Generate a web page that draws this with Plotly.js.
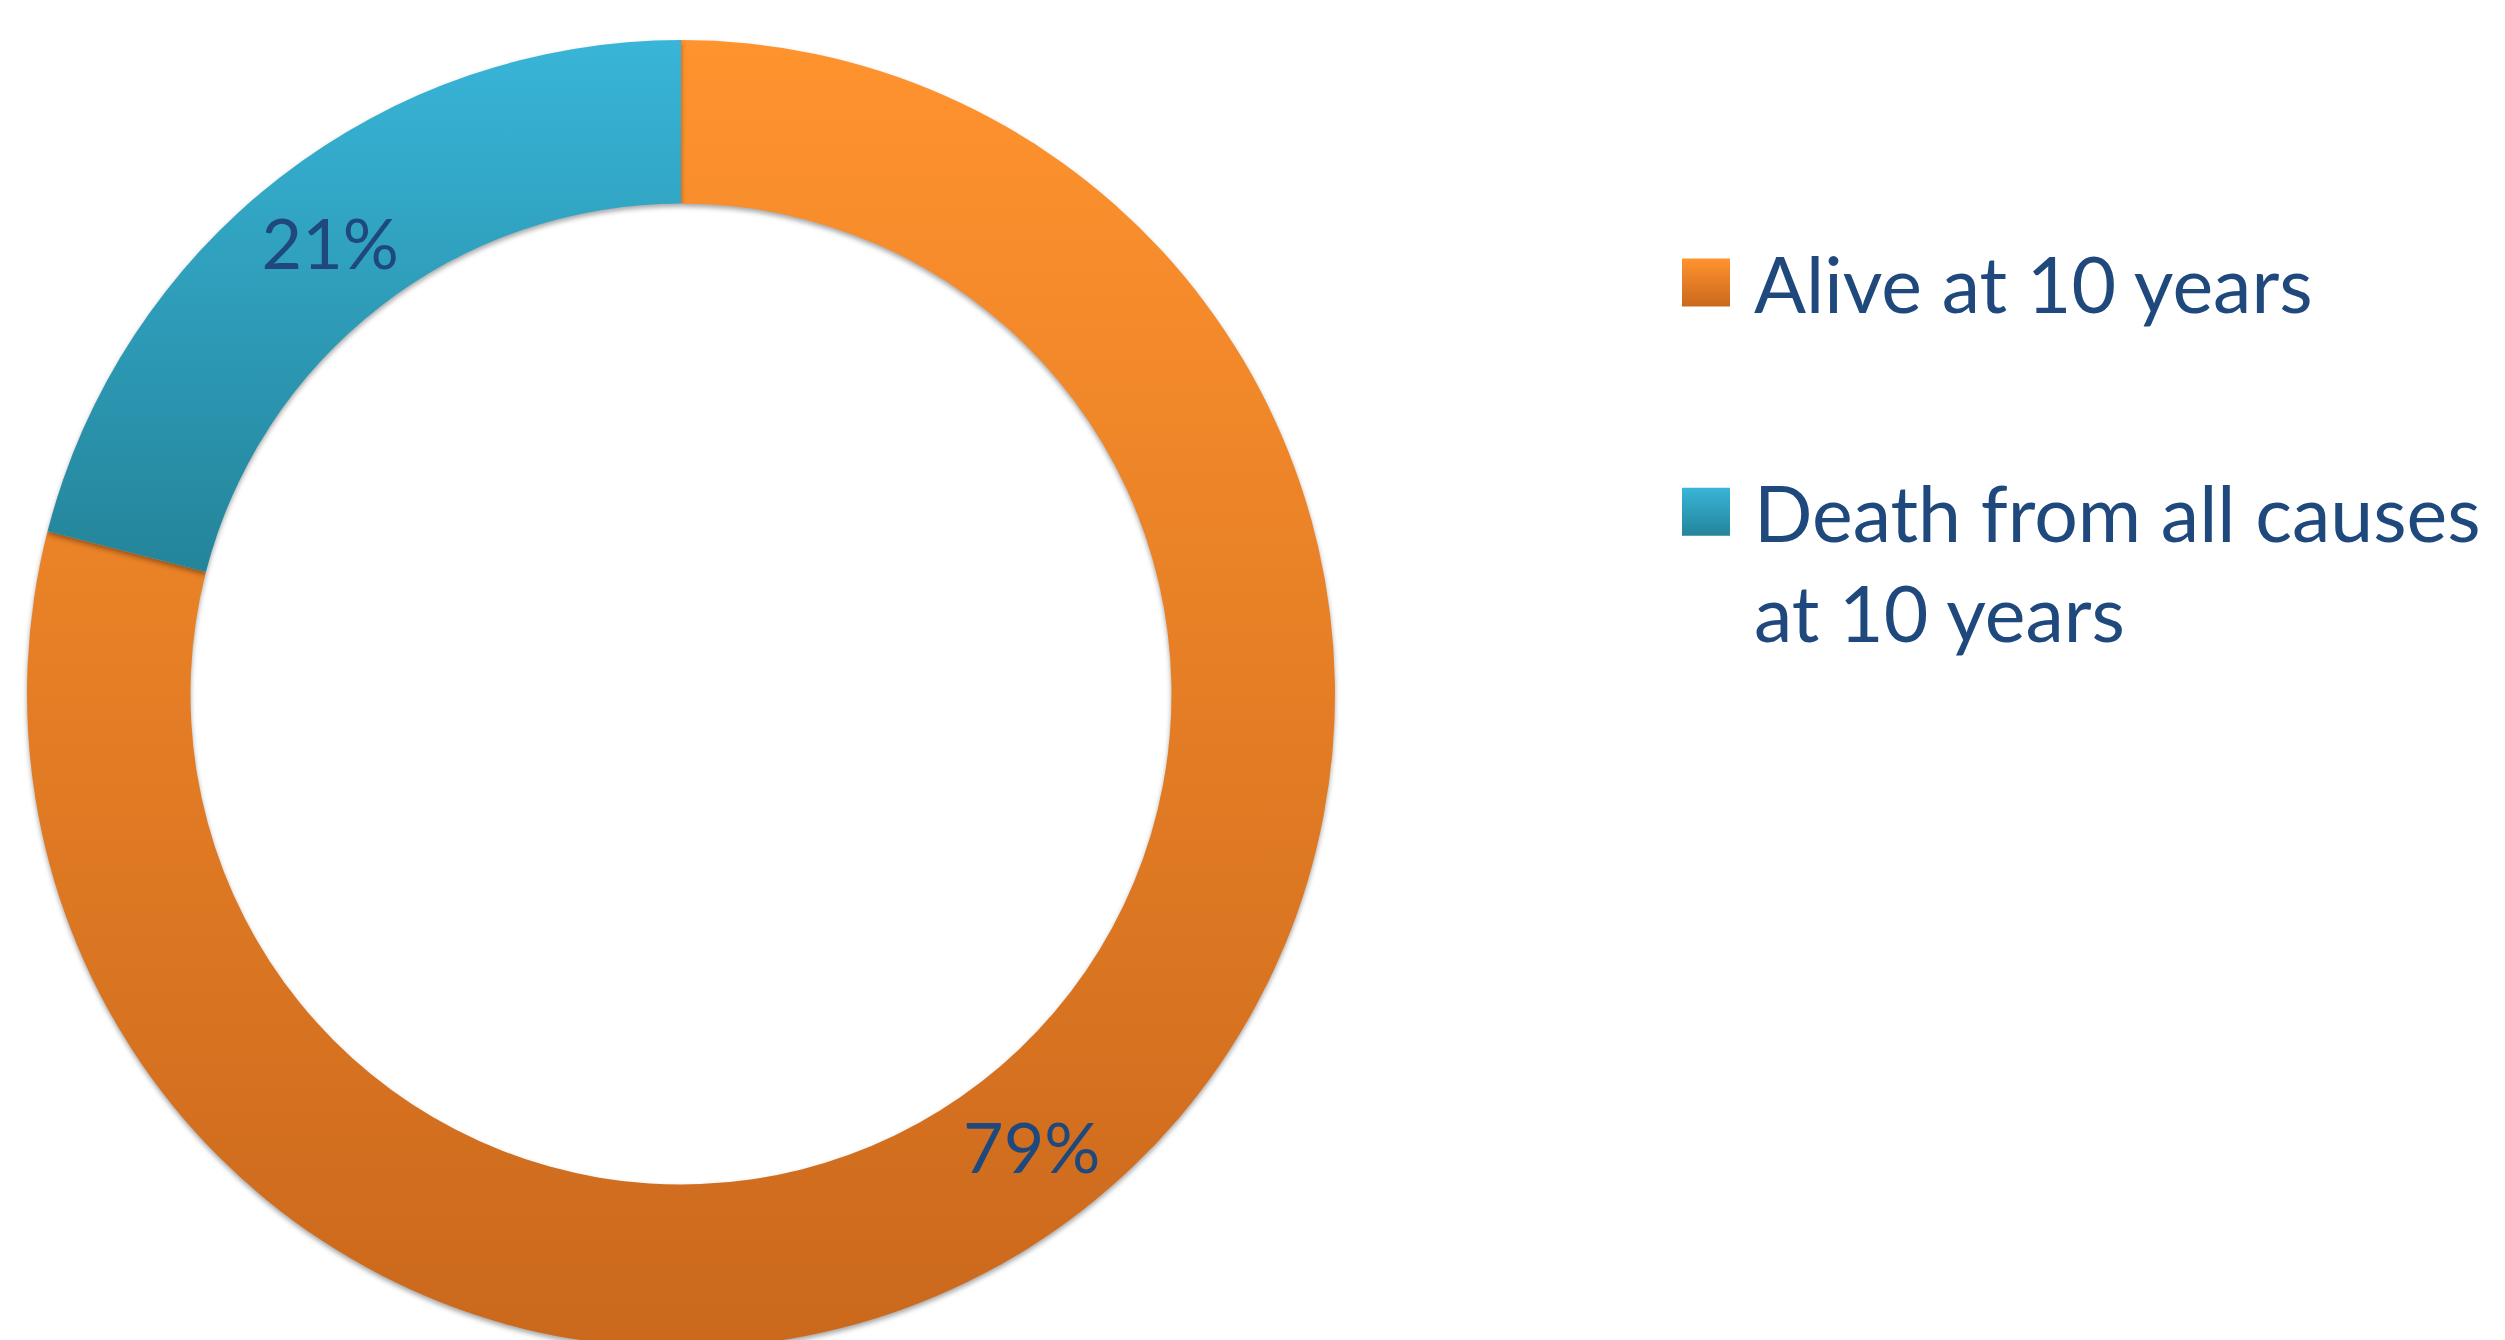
<!DOCTYPE html>
<html>
<head>
<meta charset="utf-8">
<script src="https://cdn.plot.ly/plotly-3.0.1.min.js"></script>
<style>
html, body { margin: 0; padding: 0; overflow: hidden; background: #ffffff; }
#chart { width: 2505px; height: 1350px; }
</style>
</head>
<body>
<div id="chart"></div>
<script>
// ---- data ----
const categories = ["Alive at 10 years", "Death from all causes<br>at 10 years"];
const values = [79, 21];

// ---- styles ----
const sliceColors = ["#E8822A", "#2E9DBB"];
const gradientStops = [["#FF932E", "#CA681C"], ["#38B5D8", "#24849A"]];
const textColor = "#1F497D";
const fontFamily = "Lato, 'Open Sans', sans-serif";
const W = 2505, H = 1350;
const holeFrac = 0.75;

const data = [{
  type: "pie",
  labels: categories,
  values: values,
  sort: false,
  direction: "clockwise",
  rotation: 0,
  hole: holeFrac,
  marker: { colors: sliceColors, line: { width: 0 } },
  textinfo: "percent",
  texttemplate: "%{percent:.0%}",
  textposition: "inside",
  insidetextorientation: "horizontal",
  textfont: { family: fontFamily, size: 70, color: textColor },
  domain: { x: [27 / W, 1335 / W], y: [2 / H, 1310 / H] },
  hoverinfo: "skip"
}];

const layout = {
  width: W,
  height: H,
  margin: { l: 0, r: 0, t: 0, b: 0, pad: 0 },
  paper_bgcolor: "#ffffff",
  plot_bgcolor: "#ffffff",
  showlegend: true,
  legend: {
    x: 1672 / W,
    xanchor: "left",
    y: 1 - 226 / H,
    yanchor: "top",
    valign: "top",
    itemwidth: 72,
    font: { family: fontFamily, size: 77, color: textColor },
    bgcolor: "rgba(0,0,0,0)",
    borderwidth: 0
  }
};

Plotly.newPlot("chart", data, layout, { staticPlot: true, displayModeBar: false }).then(function (gd) {
  const svgNS = "http://www.w3.org/2000/svg";
  const defs = gd.querySelector(".main-svg defs");
  gradientStops.forEach(function (st, i) {
    const lg = document.createElementNS(svgNS, "linearGradient");
    lg.setAttribute("id", "sliceGrad" + i);
    lg.setAttribute("x1", "0"); lg.setAttribute("y1", "0");
    lg.setAttribute("x2", "0"); lg.setAttribute("y2", "1");
    [[0, st[0]], [1, st[1]]].forEach(function (s) {
      const stop = document.createElementNS(svgNS, "stop");
      stop.setAttribute("offset", s[0]);
      stop.setAttribute("stop-color", s[1]);
      lg.appendChild(stop);
    });
    defs.appendChild(lg);
  });

  // slice fills + soft shadow
  const slices = gd.querySelectorAll("g.slice");
  slices.forEach(function (g, i) {
    const p = g.querySelector("path.surface");
    if (p) {
      p.style.fill = "url(#sliceGrad" + i + ")";
      p.style.filter = "drop-shadow(0px 3px 2.5px rgba(0,0,0,0.35))";
    }
  });

  // put each percent label on its slice bisector (mid-ring), as in the original
  const cd = gd.calcdata[0];
  const cx = cd[0].cx, cy = cd[0].cy, r = cd[0].r;
  const total = values.reduce(function (a, b) { return a + b; }, 0);
  const svgRect = gd.querySelector(".main-svg").getBoundingClientRect();
  let cum = 0;
  slices.forEach(function (g, i) {
    const frac = (cum + values[i] / 2) / total;
    cum += values[i];
    const theta = 2 * Math.PI * frac;
    const rMid = r * (1 + holeFrac) / 2;
    const X = cx + rMid * Math.sin(theta);
    const Y = cy - rMid * Math.cos(theta);
    const txt = g.querySelector("g.slicetext text");
    if (!txt) return;
    const b = txt.getBoundingClientRect();
    const curX = b.left + b.width / 2 - svgRect.left;
    const curY = b.top + b.height / 2 - svgRect.top;
    const old = txt.getAttribute("transform") || "";
    txt.setAttribute("transform", "translate(" + (X - curX) + "," + (Y - curY) + ") " + old);
  });

  // legend: larger gradient swatches and wider spacing between entries
  const scroll = gd.querySelector(".legend .scrollbox");
  if (scroll) { scroll.removeAttribute("clip-path"); scroll.style.clipPath = "none"; }
  gd.querySelectorAll(".legend g.traces").forEach(function (t, i) {
    const p = t.querySelector(".legendpoints path");
    if (p) {
      p.style.fill = "url(#sliceGrad" + i + ")";
      p.setAttribute("transform", "translate(34,0) scale(4)");
    }
    if (i === 1) {
      const m = /translate\(\s*([-\d.e]+)[ ,]+([-\d.e]+)\s*\)/.exec(t.getAttribute("transform") || "");
      if (m) t.setAttribute("transform", "translate(" + m[1] + "," + (parseFloat(m[2]) + 126) + ")");
    }
  });
});
</script>
</body>
</html>
